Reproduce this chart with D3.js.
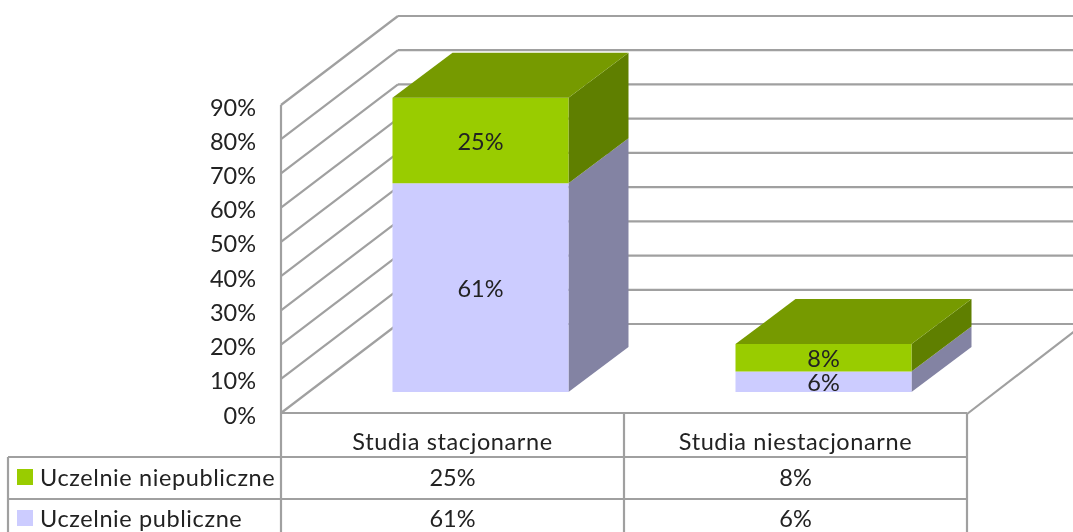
<!DOCTYPE html>
<html><head><meta charset="utf-8">
<script src="https://cdnjs.cloudflare.com/ajax/libs/d3/7.8.5/d3.min.js"></script>
<style>html,body{margin:0;padding:0;background:#fff;overflow:hidden}
svg{display:block;filter:blur(0.45px)}
text{font-family:Lato,"Open Sans",sans-serif;font-size:23.5px;fill:#222}
.wide{letter-spacing:0.6px}
</style></head><body><svg id="c" width="1073" height="532"></svg>
<script>
const categories = ["Studia stacjonarne", "Studia niestacjonarne"];
const seriesNames = ["Uczelnie publiczne", "Uczelnie niepubliczne"];
const publicValues = [61, 6];
const privateValues = [25, 8];
const yTicks = [0, 10, 20, 30, 40, 50, 60, 70, 80, 90];

const W = 1073, H = 532;
const svg = d3.select("#c");
const y = d3.scaleLinear().domain([0, 90]).range([413, 105]);
const x = d3.scaleBand().domain(categories).range([281, 967]);
const barWidth = 176;
const depth = {dx: 117, dy: -89};
const barDepth = {dx: 60, dy: -45};
const barOffset = {dx: 28, dy: -21};
const grid = "#a0a0a0";
const line = (a, b, c, d, w = 2.2) => svg.append("line").attr("x1", a).attr("y1", b).attr("x2", c).attr("y2", d)
  .attr("stroke", grid).attr("stroke-width", w);

// walls
yTicks.forEach(t => {
  line(x.range()[0], y(t), x.range()[0] + depth.dx, y(t) + depth.dy);
  line(x.range()[0] + depth.dx, y(t) + depth.dy, W + 10, y(t) + depth.dy);
});
line(x.range()[1], y(0) + 1, x.range()[1] + depth.dx, y(0) + depth.dy);

// y axis
const axis = d3.axisLeft(y).tickValues(yTicks).tickSize(0).tickPadding(25).tickFormat(d => d + "%");
const ag = svg.append("g").attr("transform", `translate(${x.range()[0]},2)`).call(axis);
ag.select(".domain").remove();
ag.selectAll("text").style("font-family", 'Lato,"Open Sans",sans-serif').style("font-size", "23.5px").attr("dy", "0.34em").attr("fill", "#222");

// bars
const palette = [
  {front: "#ccccff", side: "#8383a3", top: "#a3a3cc"},
  {front: "#99cc00", side: "#5f7f00", top: "#769a00"}
];
const stacks = categories.map((c, i) => {
  const a = publicValues[i], b = privateValues[i];
  return {c, segs: [{v: a, y0: 0, y1: a, k: 0}, {v: b, y0: a, y1: a + b, k: 1}]};
});
const base = y(0) + barOffset.dy;
const py = v => base - (y(0) - y(v));
const poly = (pts, fill) => svg.append("polygon").attr("points", pts.map(p => p.join(",")).join(" ")).attr("fill", fill);
stacks.forEach(st => {
  const x0 = x(st.c) + (x.bandwidth() - barWidth) / 2 + barOffset.dx, x1 = x0 + barWidth;
  st.segs.forEach(s => {
    const p = palette[s.k], t = py(s.y1), b = py(s.y0);
    poly([[x1, b], [x1 + barDepth.dx, b + barDepth.dy], [x1 + barDepth.dx, t + barDepth.dy], [x1, t]], p.side);
    poly([[x0, b], [x1, b], [x1, t], [x0, t]], p.front);
  });
  const last = st.segs[st.segs.length - 1], t = py(last.y1);
  poly([[x0, t], [x1, t], [x1 + barDepth.dx, t + barDepth.dy], [x0 + barDepth.dx, t + barDepth.dy]], palette[last.k].top);
  st.segs.forEach(s => {
    svg.append("text").attr("x", (x0 + x1) / 2).attr("y", (py(s.y0) + py(s.y1)) / 2 + 1).attr("dy", "0.35em")
      .attr("text-anchor", "middle").text(s.v + "%");
  });
});

// data table
const left = 8, rows = [413, 457, 499, H + 5];
line(x.range()[0], rows[0], x.range()[1], rows[0]);
line(left, rows[1], x.range()[1], rows[1]);
line(left, rows[2], x.range()[1], rows[2]);
line(left, rows[1], left, H + 5);
line(x.range()[0], y(90), x.range()[0], H + 5);
categories.forEach(c => line(x(c) + x.bandwidth(), rows[0], x(c) + x.bandwidth(), H + 5));
const cell = (tx, ty, s, anchor = "middle", cls = "") => svg.append("text").attr("class", cls).attr("x", tx).attr("y", ty).attr("dy", "0.35em").attr("text-anchor", anchor).text(s);
categories.forEach((c, i) => {
  const cx = x(c) + x.bandwidth() / 2;
  cell(cx, 442, c, "middle", "wide");
  cell(cx, 478, privateValues[i] + "%");
  cell(cx, 519, publicValues[i] + "%");
});
[[seriesNames[1], 478, palette[1].front], [seriesNames[0], 519, palette[0].front]].forEach(([n, ty, col]) => {
  svg.append("rect").attr("x", 17).attr("y", ty - 9).attr("width", 16).attr("height", 16).attr("fill", col);
  cell(40, ty, n, "start", "wide");
});
</script></body></html>
